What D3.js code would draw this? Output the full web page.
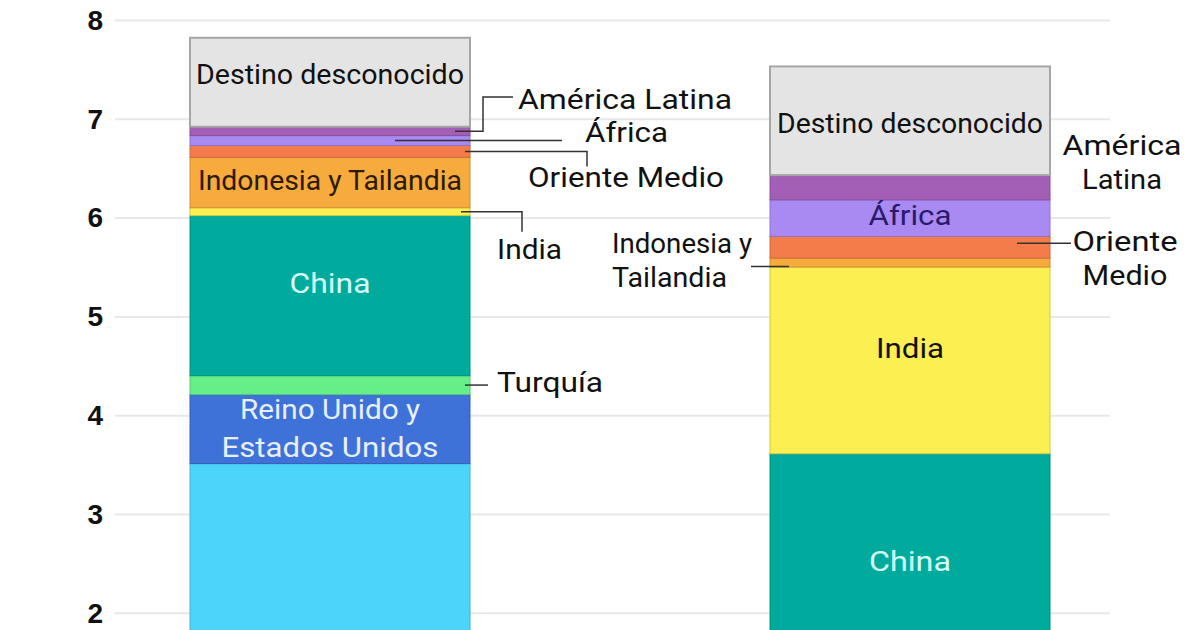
<!DOCTYPE html>
<html><head><meta charset="utf-8">
<script src="https://cdn.jsdelivr.net/npm/d3@7"></script>
<style>html,body{margin:0;padding:0;background:#fff;}svg{display:block;font-family:Roboto,"Noto Sans",sans-serif;}</style>
</head><body><svg id="c" width="1200" height="630"></svg>
<script>
// ---- data ----
const bars = ["Antes", "Después"];
const series = ["Unión Europea","Reino Unido y Estados Unidos","Turquía","China","India","Indonesia y Tailandia","Oriente Medio","África","América Latina","Destino desconocido"];
const valuesAntes   = [3.51, 0.70, 0.19, 1.62, 0.08, 0.51, 0.12, 0.10, 0.09, 0.90];
const valuesDespues = [1.00, 0.00, 0.41, 2.20, 1.89, 0.09, 0.22, 0.37, 0.25, 1.10];
const yTicks = [2, 3, 4, 5, 6, 7, 8];
const colors = ["#4dd4fa","#3f72d8","#66ef88","#00ab9e","#fbef52","#f7ab3c","#f47c4a","#a98af3","#a35eb5","#e4e4e4"];

const svg = d3.select("#c");
const y = d3.scaleLinear().domain([0, 8]).range([20 + 8*98.8, 20]);
const x = d3.scalePoint().domain(bars).range([330, 910]);
const bw = 280;

// gridlines + tick labels
const axis = d3.axisLeft(y).tickValues(yTicks).tickSize(-995).tickPadding(12).tickFormat(d3.format("d"));
const ga = svg.append("g").attr("transform","translate(115,0)").call(axis);
ga.select(".domain").remove();
ga.selectAll(".tick line").attr("stroke","#e8e8e8").attr("stroke-width",2);
ga.selectAll(".tick text").attr("fill","#111").attr("font-size",28).attr("font-weight",600).attr("dy","0.33em");

// stacked segments
const segs = [];
bars.forEach((b)=>{
  let acc = 0;
  const vals = b==="Antes"?valuesAntes:valuesDespues;
  series.forEach((s,i)=>{
    segs.push({bar:b, serie:s, i, y0:acc, y1:acc+vals[i]});
    acc += vals[i];
  });
});

svg.append("g").selectAll("rect").data(segs.filter(d=>d.y1>d.y0)).join("rect")
  .attr("x", d=>x(d.bar)-bw/2)
  .attr("width", bw)
  .attr("y", d=>y(d.y1))
  .attr("height", d=>y(d.y0)-y(d.y1))
  .attr("fill", d=>colors[d.i])
  .attr("stroke", d=>d.i===9?"#a6a6a6":d3.color(colors[d.i]).darker(0.5))
  .attr("stroke-width", d=>d.i===9?2:1);

function seg(bar, serie){ return segs.find(d=>d.bar===bar && d.serie===serie); }
function mid(bar, serie){ const s=seg(bar,serie); return (y(s.y0)+y(s.y1))/2; }

// inside labels
const inside = [
  {bar:"Antes", serie:"Destino desconocido", lines:["Destino desconocido"], dy:-7, w:[268], fill:"#111"},
  {bar:"Antes", serie:"Indonesia y Tailandia", lines:["Indonesia y Tailandia"], dy:-2, w:[264], fill:"#2a1a00"},
  {bar:"Antes", serie:"China", lines:["China"], dy:-12, w:[81], fill:"#d6fff7"},
  {bar:"Antes", serie:"Reino Unido y Estados Unidos", lines:["Reino Unido y","Estados Unidos"], dy:0, w:[180,217], fill:"#e8f0ff"},
  {bar:"Después", serie:"Destino desconocido", lines:["Destino desconocido"], dy:3, w:[266], fill:"#111"},
  {bar:"Después", serie:"África", lines:["África"], dy:-2, w:[83], fill:"#2a1a6b"},
  {bar:"Después", serie:"India", lines:["India"], dy:-11, w:[68], fill:"#111"},
  {bar:"Después", serie:"China", lines:["China"], dy:0, w:[82], fill:"#d6fff7"}
];
const gl = svg.append("g").attr("font-size",27);
inside.forEach(l=>{
  const cy = mid(l.bar,l.serie)+l.dy;
  l.lines.forEach((t,k)=>{
    gl.append("text").attr("x",x(l.bar)).attr("y",cy+(k-(l.lines.length-1)/2)*38)
      .attr("text-anchor","middle").attr("dominant-baseline","central")
      .attr("fill",l.fill).attr("textLength",l.w[k]).attr("lengthAdjust","spacingAndGlyphs").text(t);
  });
});

// outside labels with leaders
const L = x("Antes")+bw/2, R = x("Después")+bw/2, RL = x("Después")-bw/2;
const out = [
  {serie:"América Latina", bar:"Antes", pts:m=>[[L-15,m],[L+13,m],[L+13,97],[L+43,97]], lines:["América Latina"], tx:518, ty:100, anchor:"start", w:[214]},
  {serie:"África", bar:"Antes", pts:m=>[[L-75,m],[L+92,m]], lines:["África"], tx:585, ty:133, anchor:"start", w:[83]},
  {serie:"Oriente Medio", bar:"Antes", pts:m=>[[L-5,m],[L+117,m],[L+117,m+15]], lines:["Oriente Medio"], tx:626, ty:178, anchor:"middle", w:[196]},
  {serie:"India", bar:"Antes", pts:m=>[[L-9,m],[L+52,m],[L+52,m+20]], lines:["India"], tx:497, ty:250, anchor:"start", w:[65]},
  {serie:"Turquía", bar:"Antes", pts:m=>[[L-5,m],[L+18,m]], lines:["Turquía"], tx:497, ty:383, anchor:"start", w:[106]},
  {serie:"América Latina", bar:"Después", pts:null, lines:["América","Latina"], tx:1122, ty:146, anchor:"middle", w:[119,80]},
  {serie:"Indonesia y Tailandia", bar:"Después", pts:m=>[[RL-19,m+4],[RL+19,m+4]], lines:["Indonesia y","Tailandia"], tx:612, ty:244, anchor:"start", w:[140,115]},
  {serie:"Oriente Medio", bar:"Después", pts:m=>[[R-33,m-4],[R+21,m-4]], lines:["Oriente","Medio"], tx:1125, ty:242, anchor:"middle", w:[105,85]}
];
const go = svg.append("g");
out.forEach(o=>{
  if(o.pts){
    go.append("path").attr("d", d3.line()(o.pts(mid(o.bar,o.serie))))
      .attr("fill","none").attr("stroke","#333").attr("stroke-width",1.5);
  }
  o.lines.forEach((t,k)=>{
    go.append("text").attr("x",o.tx).attr("y",o.ty+k*34).attr("font-size",27)
      .attr("text-anchor",o.anchor).attr("dominant-baseline","central").attr("fill","#111")
      .attr("textLength",o.w[k]).attr("lengthAdjust","spacingAndGlyphs").text(t);
  });
});
</script></body></html>
